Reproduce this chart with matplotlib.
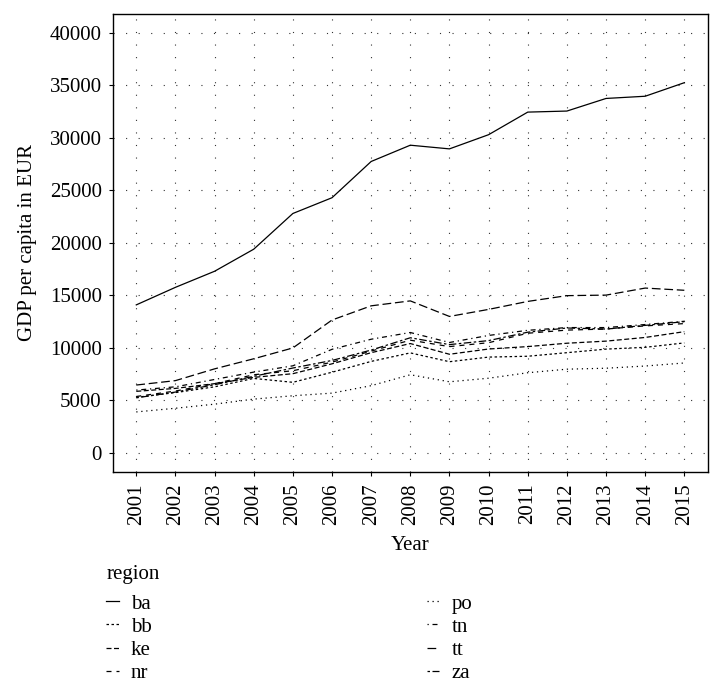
#!/usr/bin/env python3
"""GDP per capita of the Slovak regions, 2001-2015."""

from matplotlib import pyplot as plt

years = list(range(2001, 2016))

ba = [14100, 15770, 17300, 19400, 22800, 24300, 27750, 29300,
      28950, 30300, 32450, 32550, 33750, 33960, 35250]
bb = [5300, 5750, 6300, 7100, 6730, 7690, 8720, 9530,
      8690, 9130, 9210, 9550, 9890, 10060, 10480]
ke = [5870, 6150, 6600, 7200, 7550, 8490, 9550, 10420,
      9400, 9900, 10130, 10450, 10650, 11000, 11550]
nr = [5380, 5900, 6600, 7450, 7830, 8650, 9700, 10740,
      10130, 10500, 11400, 11700, 11800, 12100, 12320]
po = [3910, 4260, 4650, 5130, 5450, 5700, 6410, 7450,
      6780, 7120, 7640, 7980, 8070, 8280, 8570]
tn = [5990, 6300, 7000, 7700, 8300, 9870, 10830, 11470,
      10520, 11190, 11680, 11940, 11940, 12230, 12540]
tt = [6470, 6890, 8010, 8970, 10000, 12660, 14010, 14480,
      13000, 13670, 14430, 14980, 15030, 15700, 15490]
za = [5250, 5800, 6500, 7300, 8090, 8810, 9800, 10970,
      10320, 10700, 11500, 11900, 11800, 12150, 12500]

regions = ["ba", "bb", "ke", "nr", "po", "tn", "tt", "za"]
values = [ba, bb, ke, nr, po, tn, tt, za]

# ggplot's default linetype palette
dashes = {
    "ba": "-",
    "bb": (0, (2, 2)),
    "ke": (0, (4, 2)),
    "nr": (0, (4, 4)),
    "po": (0, (1, 3)),
    "tn": (0, (1, 3, 4, 3)),
    "tt": (0, (7, 3)),
    "za": (0, (2, 2, 6, 2)),
}


def main():
    plt.rcParams["font.family"] = ["Liberation Serif", "DejaVu Serif"]
    plt.rcParams["font.size"] = 15

    fig = plt.figure(figsize=(7.23, 6.94), dpi=100)
    ax = fig.add_axes([0.156, 0.320, 0.823, 0.660])

    handles = []
    for name, vals in zip(regions, values):
        (line,) = ax.plot(years, vals, color="black", linewidth=0.9,
                          linestyle=dashes[name], label=name)
        handles.append(line)

    ax.set_xlim(2001 - 0.6, 2015 + 0.6)
    ax.set_ylim(-1800, 41800)
    ax.set_xticks(years)
    ax.set_xticklabels([str(y) for y in years], rotation=90)
    ax.set_yticks(range(0, 40001, 5000))

    ax.grid(True, color="#333333", linestyle=(0, (1, 10.3)), linewidth=0.8)
    ax.set_axisbelow(True)
    for spine in ax.spines.values():
        spine.set_linewidth(1.0)
    ax.tick_params(direction="out", length=3, width=0.8, pad=5)

    ax.set_xlabel("Year", labelpad=8)
    ax.set_ylabel("GDP per capita in EUR", labelpad=9)

    fig.text(107 / 723, 1 - 574 / 694, "region", ha="left", va="center")
    fig.legend(handles=handles, loc="upper left", ncol=2,
               bbox_to_anchor=(106 / 723, 1 - 594 / 694), frameon=False,
               borderpad=0, borderaxespad=0, handlelength=0.6,
               handletextpad=0.6, columnspacing=13.2, labelspacing=0.17)

    fig.savefig("out.png", dpi=100)


if __name__ == "__main__":
    main()
